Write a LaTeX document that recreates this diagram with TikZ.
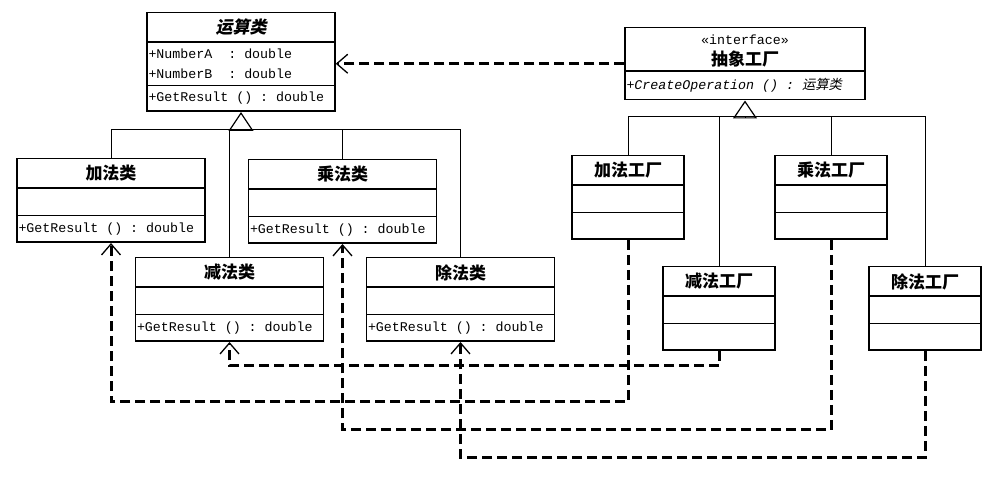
\documentclass[tikz,border=0pt]{standalone}
\usepackage{fontspec}
\setmonofont{Liberation Mono}
\newfontfamily\cjk{Noto Sans CJK SC}[AutoFakeSlant=0.2]
\newfontfamily\cjkit{Noto Sans CJK SC}[FakeSlant=0.2]
\usetikzlibrary{arrows.meta,shapes.multipart}

% one compartment of a class box, and the name compartment
\newcommand{\cpart}[3][185pt]{\parbox[c][#2][c]{#1}{#3}}
\newcommand{\ctitle}[2][185pt]{\cpart[#1]{28pt}{\centering\cjk\bfseries\fontsize{17}{19}\selectfont #2}}

\begin{document}
\begin{tikzpicture}[x=1pt,y=-1pt,
  cls/.style={draw,line width=1.5pt,rectangle split,rectangle split parts=3,
    inner xsep=1.5pt,inner ysep=0pt,anchor=north,
    font=\fontsize{13.3}{20}\selectfont\ttfamily},
  inh/.style={line width=1pt},
  dep/.style={line width=3pt,dash pattern=on 10pt off 5pt,
    -{Straight Barb[length=11pt,width=19pt,line width=1.3pt]}}
]
  \fill[white] (0,0) rectangle (989,478);
  \useasboundingbox (0,0) rectangle (989,478);

  % Abstract product and interface
  \node[cls] (op) at (241,12) {\ctitle{\cjkit 运算类}
    \nodepart{second}\cpart{42pt}{+NumberA~~: double\\+NumberB~~: double}
    \nodepart{third}\cpart{24pt}{+GetResult () : double}};
  \node[cls,rectangle split parts=2] (ifc) at (745,27) {\parbox[c][42pt][b]{237pt}{\fontsize{13.3}{21}\selectfont\centering
      «interface»\\{\cjk\bfseries\fontsize{17}{19}\selectfont 抽象工厂}\par\vspace{3pt}}
    \nodepart{second}\cpart[237pt]{27pt}{\itshape +CreateOperation () : {\cjk 运算类}}};

  % Concrete operations
  \node[cls] (add) at (111,158) {\ctitle{加法类}
    \nodepart{second}\cpart{26pt}{}\nodepart{third}\cpart{25pt}{+GetResult () : double}};
  \node[cls] (mul) at (342.5,159) {\ctitle{乘法类}
    \nodepart{second}\cpart{26pt}{}\nodepart{third}\cpart{25pt}{+GetResult () : double}};
  \node[cls] (sub) at (229.5,257) {\ctitle{减法类}
    \nodepart{second}\cpart{26pt}{}\nodepart{third}\cpart{25pt}{+GetResult () : double}};
  \node[cls] (div) at (460.5,257) {\ctitle{除法类}
    \nodepart{second}\cpart{26pt}{}\nodepart{third}\cpart{25pt}{+GetResult () : double}};

  % Concrete factories
  \node[cls] (fadd) at (628,155) {\ctitle[109pt]{加法工厂}
    \nodepart{second}\cpart[109pt]{26pt}{}\nodepart{third}\cpart[109pt]{25pt}{}};
  \node[cls] (fmul) at (831,155) {\ctitle[109pt]{乘法工厂}
    \nodepart{second}\cpart[109pt]{26pt}{}\nodepart{third}\cpart[109pt]{25pt}{}};
  \node[cls] (fsub) at (719,266) {\ctitle[109pt]{减法工厂}
    \nodepart{second}\cpart[109pt]{26pt}{}\nodepart{third}\cpart[109pt]{25pt}{}};
  \node[cls] (fdiv) at (925,266) {\ctitle[109pt]{除法工厂}
    \nodepart{second}\cpart[109pt]{26pt}{}\nodepart{third}\cpart[109pt]{25pt}{}};

  % Generalisation
  \coordinate (cbus) at (0,130);
  \coordinate (fbus) at (0,117);
  \draw[inh] (add.north) -- (add.north |- cbus) -- (div.north |- cbus) -- (div.north);
  \draw[inh] (sub.north) -- (sub.north |- cbus);
  \draw[inh] (mul.north) -- (mul.north |- cbus);
  \draw[inh,-{Triangle[open,length=19pt,width=25pt,line width=1.2pt]}] (op.south |- cbus) -- (op.south);
  \draw[inh] (fadd.north) -- (fadd.north |- fbus) -- (fdiv.north |- fbus) -- (fdiv.north);
  \draw[inh] (fsub.north) -- (fsub.north |- fbus);
  \draw[inh] (fmul.north) -- (fmul.north |- fbus);
  \draw[inh,-{Triangle[open,length=18pt,width=24pt,line width=1.2pt]}] (ifc.south |- fbus) -- (ifc.south);

  % Dependencies
  \coordinate (d1) at (0,402);
  \coordinate (d2) at (0,366);
  \coordinate (d3) at (0,430);
  \coordinate (d4) at (0,458);
  \draw[dep] (ifc.west) -- (op.east |- ifc.west);
  \draw[dep] (fadd.south) -- (fadd.south |- d1) -| (add.south);
  \draw[dep] (fsub.south) -- (fsub.south |- d2) -| (sub.south);
  \draw[dep] (fmul.south) -- (fmul.south |- d3) -| (mul.south);
  \draw[dep] (fdiv.south) -- (fdiv.south |- d4) -| (div.south);
\end{tikzpicture}
\end{document}
